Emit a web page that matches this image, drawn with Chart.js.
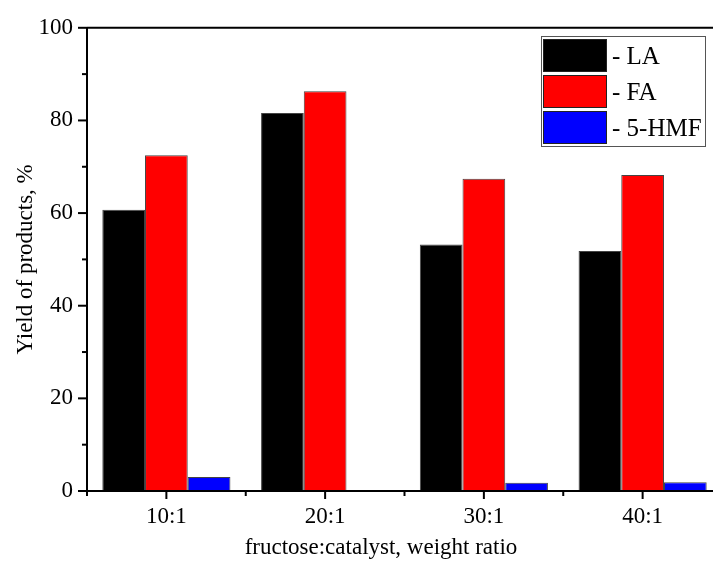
<!DOCTYPE html>
<html>
<head>
<meta charset="UTF-8" />
<title>Yield of products</title>
<script src="https://cdn.jsdelivr.net/npm/chart.js"></script>
<style>
  html, body { margin: 0; padding: 0; background: #fff; overflow: hidden; }
  .wrap { position: relative; width: 740px; height: 563px; }
</style>
</head>
<body>
<div class="wrap"><canvas id="c"></canvas></div>
<script>
  const categories = ["10:1", "20:1", "30:1", "40:1"];
  const seriesNames = ["- LA", "- FA", "- 5-HMF"];
  const laValues = [60.7, 81.6, 53.2, 51.8];
  const faValues = [72.5, 86.3, 67.4, 68.2];
  const hmfValues = [3.0, 0, 1.8, 1.9];
  const yTicks = [0, 20, 40, 60, 80, 100];

  const FONT = "'Liberation Serif', 'DejaVu Serif', serif";

  // ticks pointing outward, major + minor, plus the top frame line
  const framePlugin = {
    id: "frame",
    afterDraw(chart) {
      const { ctx, chartArea: a, scales } = chart;
      ctx.save();
      ctx.strokeStyle = "#000";
      ctx.lineWidth = 2;
      ctx.beginPath();
      ctx.moveTo(a.left, a.top);
      ctx.lineTo(a.right, a.top);
      ctx.moveTo(a.left, a.top);
      ctx.lineTo(a.left, a.bottom);
      ctx.moveTo(a.left - 1, a.bottom);
      ctx.lineTo(a.right, a.bottom);
      ctx.stroke();

      // y ticks
      for (let v = 0; v <= 100; v += 10) {
        const y = scales.y.getPixelForValue(v);
        const len = v % 20 === 0 ? 9 : 5;
        ctx.beginPath();
        ctx.moveTo(a.left - len, y);
        ctx.lineTo(a.left, y);
        ctx.stroke();
      }
      // x ticks: major at centres, minor at boundaries
      categories.forEach((c, i) => {
        const x = scales.x.getPixelForValue(i);
        ctx.beginPath();
        ctx.moveTo(x, a.bottom);
        ctx.lineTo(x, a.bottom + 8);
        ctx.stroke();
        const xb = scales.x.getPixelForValue(i - 0.5);
        ctx.beginPath();
        ctx.moveTo(xb, a.bottom);
        ctx.lineTo(xb, a.bottom + 5);
        ctx.stroke();
      });

      // x axis title (centred on the figure, not the clipped plot)
      ctx.fillStyle = "#000";
      ctx.font = "23px " + FONT;
      ctx.textAlign = "center";
      ctx.textBaseline = "middle";
      ctx.fillText("fructose:catalyst, weight ratio", 381, 548);
      ctx.restore();
    },
  };

  // legend box inside the plot, upper right
  const boxLegend = {
    id: "boxLegend",
    afterDraw(chart) {
      const { ctx } = chart;
      const x0 = 541, y0 = 36, w = 164, h = 110;
      ctx.save();
      ctx.fillStyle = "#fff";
      ctx.fillRect(x0, y0, w, h);
      ctx.strokeStyle = "#555";
      ctx.lineWidth = 1;
      ctx.strokeRect(x0 + 0.5, y0 + 0.5, w, h);
      chart.data.datasets.forEach((ds, i) => {
        const ry = y0 + 3 + i * 36;
        ctx.fillStyle = ds.backgroundColor;
        ctx.fillRect(543, ry, 64, 33);
        ctx.strokeStyle = "#222";
        ctx.strokeRect(543.5, ry + 0.5, 63, 32);
        ctx.fillStyle = "#000";
        ctx.font = "25px " + FONT;
        ctx.textBaseline = "middle";
        ctx.fillText(ds.label, 612, ry + 18);
      });
      ctx.restore();
    },
  };

  const mk = (label, data, color) => ({
    label,
    data,
    backgroundColor: color,
    borderColor: "#444",
    borderWidth: 1,
    categoryPercentage: 0.807,
    barPercentage: 1,
  });

  new Chart(document.getElementById("c"), {
    type: "bar",
    data: {
      labels: categories,
      datasets: [
        mk(seriesNames[0], laValues, "#000000"),
        mk(seriesNames[1], faValues, "#ff0000"),
        mk(seriesNames[2], hmfValues, "#0000ff"),
      ],
    },
    options: {
      responsive: true,
      maintainAspectRatio: false,
      animation: false,
      layout: { padding: { top: 26, right: 18, left: 0, bottom: 0 } },
      plugins: { legend: { display: false }, tooltip: { enabled: false } },
      scales: {
        x: {
          grid: { display: false, drawTicks: false },
          border: { display: false },
          ticks: {
            color: "#000",
            padding: 12,
            font: { family: FONT, size: 23 },
          },
          afterFit(scale) { scale.height = 72; },
        },
        y: {
          min: 0,
          max: 100,
          afterBuildTicks(scale) {
            scale.ticks = yTicks.map((v) => ({ value: v }));
          },
          grid: { display: false, drawTicks: false },
          border: { display: false },
          ticks: {
            color: "#000",
            padding: 14,
            font: { family: FONT, size: 23 },
          },
          title: {
            display: true,
            text: "Yield of products, %",
            color: "#000",
            padding: { top: 12, bottom: 4 },
            font: { family: FONT, size: 23 },
          },
          afterFit(scale) { scale.width = 87; },
        },
      },
    },
    plugins: [framePlugin, boxLegend],
  });
</script>
</body>
</html>
